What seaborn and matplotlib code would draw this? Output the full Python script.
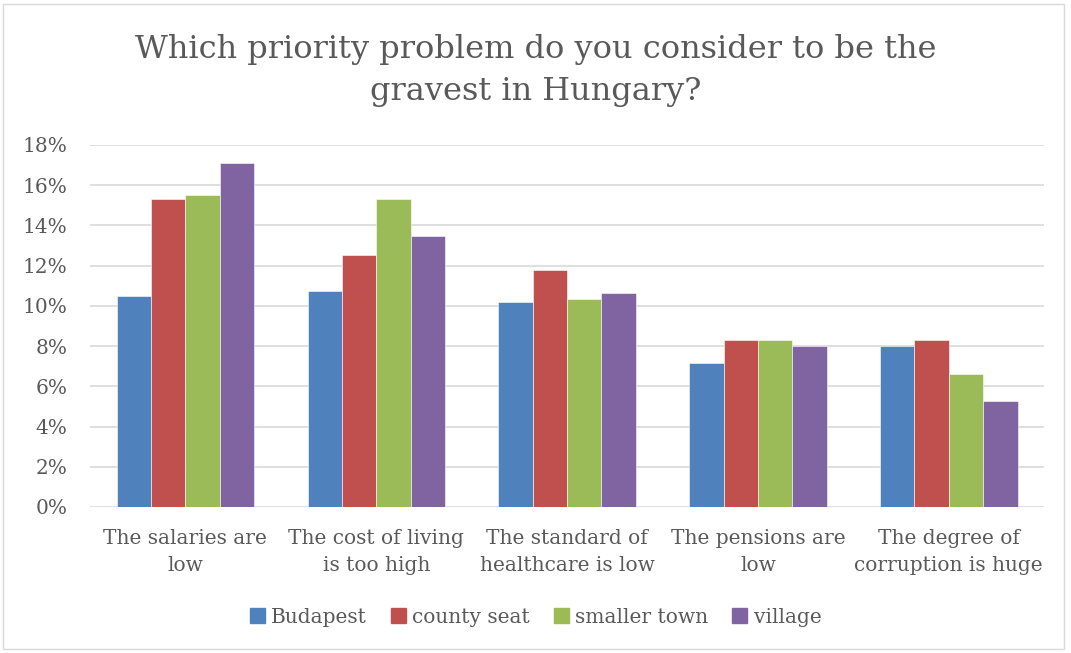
import pandas as pd
import matplotlib.pyplot as plt
import seaborn as sns
from matplotlib.patches import Rectangle

# Data
problems = [
    "The salaries are\nlow",
    "The cost of living\nis too high",
    "The standard of\nhealthcare is low",
    "The pensions are\nlow",
    "The degree of\ncorruption is huge",
]
settlements = ["Budapest", "county seat", "smaller town", "village"]

budapest = [10.47, 10.72, 10.21, 7.17, 8.00]
county_seat = [15.30, 12.52, 11.80, 8.28, 8.28]
smaller_town = [15.53, 15.31, 10.36, 8.31, 6.60]
village = [17.12, 13.45, 10.62, 8.00, 5.25]

colors = ["#4F81BD", "#C0504D", "#9BBB59", "#8064A2"]
text_color = "#595959"

rows = []
for name, vals in zip(settlements, [budapest, county_seat, smaller_town, village]):
    for prob, v in zip(problems, vals):
        rows.append({"problem": prob, "settlement": name, "share": v})
df = pd.DataFrame(rows)

sns.set_style("white")
plt.rcParams["font.family"] = ["DejaVu Serif"]

fig = plt.figure(figsize=(10.71, 6.53), dpi=100)
ax = fig.add_axes([0.084, 0.2236, 0.891, 0.5544])

sns.barplot(data=df, x="problem", y="share", hue="settlement",
            hue_order=settlements, order=problems, palette=colors,
            saturation=1, width=0.72, edgecolor="white", linewidth=0.4,
            ax=ax, zorder=3)

ax.set_ylim(0, 18)
ax.set_yticks(range(0, 19, 2))
ax.set_yticklabels([f"{t}%" for t in range(0, 19, 2)])
ax.set_xlim(-0.5, len(problems) - 0.5)
ax.grid(axis="y", color="#D9D9D9", linewidth=1.2, zorder=0)
ax.set_axisbelow(True)
for s in ax.spines.values():
    s.set_visible(False)
ax.set_xlabel("")
ax.set_ylabel("")
ax.tick_params(axis="both", length=0, colors=text_color, labelsize=14.5)
ax.tick_params(axis="y", pad=16)
ax.tick_params(axis="x", pad=16)
for lbl in ax.get_xticklabels():
    lbl.set_linespacing(1.55)

ax.get_legend().remove()
handles = [Rectangle((0, 0), 1, 1, color=c) for c in colors]
leg = fig.legend(handles, settlements, loc="center", bbox_to_anchor=(0.5, 0.055),
                 ncol=4, frameon=False, fontsize=14.5, handlelength=0.75,
                 handleheight=0.75, handletextpad=0.3, columnspacing=1.2)
for t in leg.get_texts():
    t.set_color(text_color)

fig.text(0.5, 0.892, "Which priority problem do you consider to be the\ngravest in Hungary?",
         ha="center", va="center", fontsize=23, color=text_color, linespacing=1.45)

fig.patches.append(Rectangle((0.003, 0.006), 0.99, 0.988, transform=fig.transFigure,
                             fill=False, edgecolor="#D9D9D9", linewidth=1))

fig.savefig("out.png", dpi=100)
